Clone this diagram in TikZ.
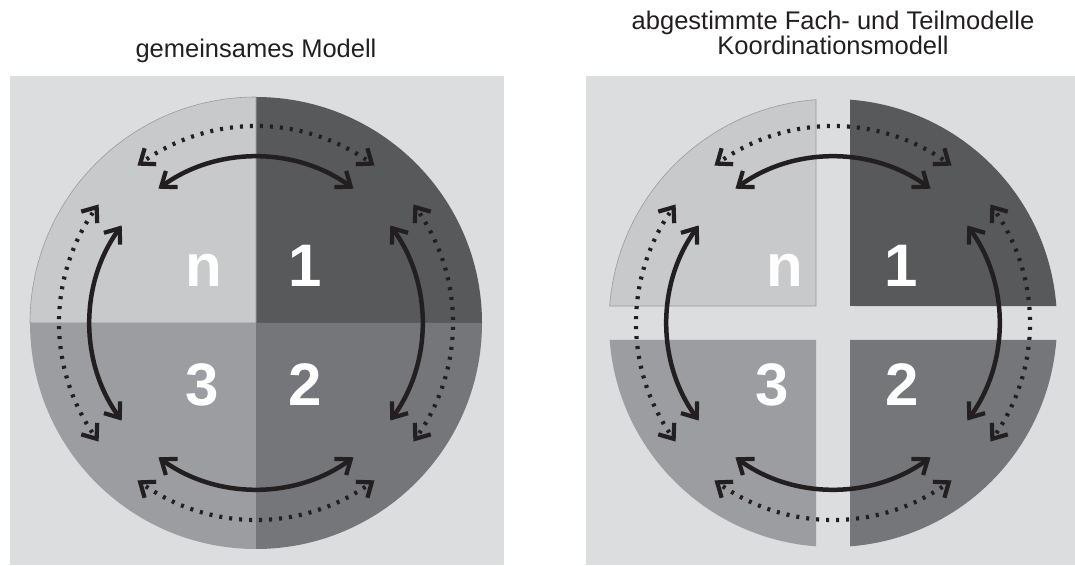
\documentclass[tikz,border=0pt]{standalone}
\usepackage{fontspec}
\setmainfont{Liberation Sans}
\usepackage{tikz}
\usetikzlibrary{arrows.meta}
\definecolor{panel}{HTML}{DCDDDF}
\definecolor{shadeN}{HTML}{C8C9CB}
\definecolor{shadeOne}{HTML}{58595B}
\definecolor{shadeTwo}{HTML}{75767A}
\definecolor{shadeThree}{HTML}{9C9DA0}
\definecolor{rim}{HTML}{9A9B9D}
\definecolor{ink}{HTML}{231F20}

\begin{document}
\begin{tikzpicture}[x=1pt, y=1pt,
    pieceN/.style={fill=shadeN, draw=rim, line width=0.6pt},
    pieceOne/.style={fill=shadeOne},
    pieceTwo/.style={fill=shadeTwo},
    pieceThree/.style={fill=shadeThree},
    num/.style={text=white, font=\bfseries\fontsize{60}{60}\selectfont, anchor=base, inner sep=0pt},
    caption/.style={text=ink, font=\fontsize{25.5}{25.5}\selectfont, anchor=base, inner sep=0pt},
    chev/.tip={Straight Barb[length=13pt, width=20pt, line width=4.2pt, line cap=butt, line join=miter]},
    link/.style={draw=ink, line width=4.5pt, chev-chev},
    dotlink/.style={draw=ink, line width=4.2pt, dash pattern=on 3pt off 7pt},
    dottip/.style={draw=ink, line width=4.2pt, line join=miter}]
    \useasboundingbox (0,0) rectangle (1075,565);
    \fill[panel] (10,0) rectangle (504,489);
    \fill[panel] (586,0) rectangle (1075,489);
    \coordinate (L) at (256,242);
    \coordinate (R) at (833,242);

    \foreach \b/\s in {0/pieceOne, 90/pieceN, 180/pieceThree, 270/pieceTwo} {
        \path[\s] (L) -- ([shift={(\b:226)}]L) arc[start angle=\b, end angle=\b+90, radius=226] -- cycle;
        \path[\s] ([shift={(\b+45:24.04)}]R) -- ([shift={(\b+4.35:224)}]R)
            arc[start angle=\b+4.35, end angle=\b+85.65, radius=224] -- cycle;
    }

    \node[num] (leftN) at (204,278) {n};
    \node[num] (leftOne) at (305,278) {1};
    \node[num] (leftThree) at (202,160) {3};
    \node[num] (leftTwo) at (305,160) {2};
    \node[num] (rightN) at (785,278) {n};
    \node[num] (rightOne) at (901,278) {1};
    \node[num] (rightThree) at (772,160) {3};
    \node[num] (rightTwo) at (902,160) {2};

    \foreach \p in {L,R} {
        \foreach \b in {0,90,180,270} {
            \draw[link] ([shift={(\b-36:166)}]\p) arc[start angle=\b-36, end angle=\b+36, radius=166];
            \draw[dotlink] ([shift={(\b-34:197)}]\p) arc[start angle=\b-34, end angle=\b+34, radius=197];
            \draw[dottip] ([shift={(\b-36:197)}, shift={(\b+16:16)}]\p) -- ([shift={(\b-36:197)}]\p)
                -- ([shift={(\b-36:197)}, shift={(\b+92:16)}]\p);
            \draw[dottip] ([shift={(\b+36:197)}, shift={(\b-16:16)}]\p) -- ([shift={(\b+36:197)}]\p)
                -- ([shift={(\b+36:197)}, shift={(\b-92:16)}]\p);
        }
    }

    \node[caption] (titleLeft) at (256,507) {gemeinsames Modell};
    \node[caption] (titleRightA) at (833,535) {abgestimmte Fach- und Teilmodelle};
    \node[caption] (titleRightB) at (833,510) {Koordinationsmodell};
\end{tikzpicture}
\end{document}
